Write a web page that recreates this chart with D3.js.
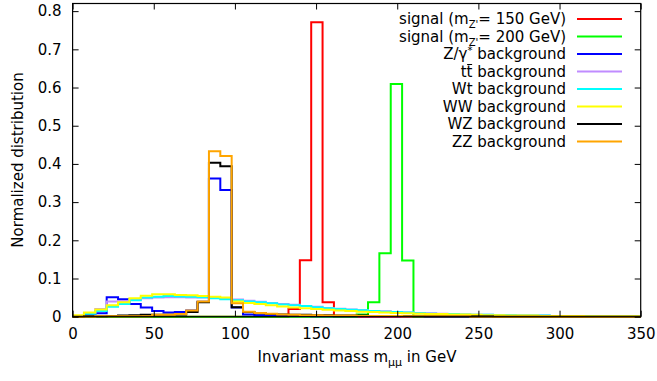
<!DOCTYPE html>
<html>
<head>
<meta charset="utf-8">
<script src="https://cdn.jsdelivr.net/npm/d3@7"></script>
<style>
  body { margin: 0; background: #fff; }
  svg { display: block; font-family: "DejaVu Sans", sans-serif; }
</style>
</head>
<body>
<div id="app"></div>
<script>
const app = document.getElementById("app");

// bins of 7 GeV, 0..350
const binWidth = 7;
const xTicks = [0, 50, 100, 150, 200, 250, 300, 350];
const yTicks = [0, 0.1, 0.2, 0.3, 0.4, 0.5, 0.6, 0.7, 0.8];

const sig150 = [0,0,0,0,0,0,0,0,0,0, 0,0,0,0,0,0,0,0,0,0.02, 0.148,0.771,0.038,0,0,0,0,0,0,0, 0,0,0,0,0,0,0,0,0,0, 0,0,0,0,0,0,0,0,0,0];
const sig200 = [0,0,0,0,0,0,0,0,0,0, 0,0,0,0,0,0,0,0,0,0, 0,0,0,0,0,0.006,0.038,0.166,0.609,0.147, 0,0,0,0,0,0,0,0,0,0, 0,0,0,0,0,0,0,0,0,0];
const zgamma = [0.001,0.006,0.009,0.051,0.046,0.033,0.024,0.015,0.011,0.012, 0.016,0.039,0.362,0.332,0.024,0.006,0.004,0.003,0.002,0.002, 0.002,0.001,0.001,0.001,0.001,0.001,0.001,0.001,0.001,0.001, 0.001,0,0,0,0,0,0,0,0,0, 0,0,0,0,0,0,0,0,0,0];
const ttbar = [0.002,0.01,0.02,0.04,0.041,0.044,0.048,0.05,0.051,0.051, 0.05,0.05,0.049,0.047,0.045,0.042,0.039,0.036,0.033,0.031, 0.028,0.026,0.023,0.021,0.019,0.017,0.015,0.014,0.012,0.011, 0.01,0.009,0.008,0.007,0.006,0.005,0.005,0.004,0.004,0.003, 0.003,0.003,0.002,0.002,0.002,0.002,0.001,0.001,0.001,0.001];
const wt = [0.002,0.008,0.015,0.026,0.033,0.043,0.05,0.052,0.054,0.053, 0.052,0.051,0.048,0.046,0.043,0.04,0.038,0.035,0.032,0.03, 0.028,0.025,0.022,0.02,0.018,0.017,0.015,0.013,0.012,0.011, 0.009,0.008,0.007,0.007,0.006,0.005,0.005,0.004,0.004,0.003, 0.003,0.003,0.002,0.002,0.002,0.002,0.001,0.001,0.001,0.001];
const ww = [0.004,0.011,0.019,0.03,0.038,0.048,0.055,0.059,0.059,0.057, 0.056,0.054,0.052,0.05,0.04,0.036,0.033,0.03,0.027,0.024, 0.022,0.02,0.018,0.016,0.015,0.013,0.012,0.011,0.01,0.009, 0.008,0.007,0.007,0.006,0.006,0.005,0.004,0.004,0.003,0.003, 0.003,0.002,0.002,0.002,0.002,0.001,0.001,0.001,0.001,0.001];
const wz = [0,0.001,0.001,0.002,0.003,0.004,0.005,0.005,0.005,0.006, 0.012,0.038,0.403,0.394,0.025,0.012,0.009,0.007,0.006,0.005, 0.005,0.004,0.004,0.003,0.003,0.003,0.002,0.002,0.002,0.002, 0.001,0.001,0.001,0.001,0.001,0.001,0.001,0,0,0, 0,0,0,0,0,0,0,0,0,0];
const zz = [0,0,0.001,0.001,0.001,0.001,0.001,0.005,0.005,0.007, 0.016,0.04,0.433,0.421,0.035,0.013,0.01,0.008,0.006,0.005, 0.004,0.004,0.003,0.003,0.003,0.002,0.002,0.002,0.002,0.001, 0.001,0.001,0.001,0.001,0.001,0,0,0,0,0, 0,0,0,0,0,0,0,0,0,0];

const seriesValues = [sig150, sig200, zgamma, ttbar, wt, ww, wz, zz];
const seriesColors = ["#ff0000", "#00ff00", "#0000ff", "#c08cff", "#00ffff", "#ffff00", "#000000", "#ffa500"];

const W = 657, H = 381;
const FS = 15;
const svg = d3.select(app).append("svg").attr("width", W).attr("height", H);

const x = d3.scaleLinear().domain([0, 350]).range([72.6, 640.7]);
const y = d3.scaleLinear().domain([0, 0.82]).range([316.7, 3.5]);

// histograms, drawn in legend order (last on top)
const line = d3.line().x(d => x(d[0])).y(d => y(d[1])).curve(d3.curveStepAfter);
seriesValues.forEach((vals, i) => {
  const pts = vals.map((v, k) => [k * binWidth, v]);
  pts.push([vals.length * binWidth, vals[vals.length - 1]]);
  svg.append("path")
    .datum(pts)
    .attr("d", line)
    .attr("fill", "none")
    .attr("stroke", seriesColors[i])
    .attr("stroke-width", 2);
});

// axes with inward ticks, mirrored
const fmtY = d => d === 0 ? "0" : d3.format(".1f")(d);
const axBottom = svg.append("g").attr("transform", `translate(0,${y(0)})`)
  .call(d3.axisBottom(x).tickValues(xTicks).tickSize(-6).tickPadding(12));
const axTop = svg.append("g").attr("transform", `translate(0,${y.range()[1]})`)
  .call(d3.axisTop(x).tickValues(xTicks).tickSize(-6).tickFormat(""));
const axLeft = svg.append("g").attr("transform", `translate(${x(0)},0)`)
  .call(d3.axisLeft(y).tickValues(yTicks).tickSize(-6).tickPadding(11).tickFormat(fmtY));
const axRight = svg.append("g").attr("transform", `translate(${x(350)},0)`)
  .call(d3.axisRight(y).tickValues(yTicks).tickSize(-6).tickFormat(""));

[axBottom, axTop, axLeft, axRight].forEach(g => {
  g.select(".domain").remove();
  g.selectAll("text").attr("font-family", "DejaVu Sans").attr("font-size", FS).attr("fill", "#000");
  g.selectAll(".tick line").attr("stroke", "#000");
});

svg.append("rect")
  .attr("x", x(0)).attr("y", y.range()[1])
  .attr("width", x(350) - x(0)).attr("height", y(0) - y.range()[1])
  .attr("fill", "none").attr("stroke", "#000").attr("stroke-width", 1.2);

// axis titles
const xl = svg.append("text")
  .attr("x", 357).attr("y", 362)
  .attr("text-anchor", "middle").attr("font-size", FS);
xl.append("tspan").text("Invariant mass m");
xl.append("tspan").attr("font-size", 11).attr("dy", 4).text("μμ");
xl.append("tspan").attr("dy", -4).text(" in GeV");

svg.append("text")
  .attr("transform", "translate(23,160) rotate(-90)")
  .attr("text-anchor", "middle").attr("font-size", FS)
  .text("Normalized distribution");

// legend: [text, dy, small?, overline?]
const legendRows = [
  [["signal (m", 0], ["Z'", 4, 1], ["= 150 GeV)", -4]],
  [["signal (m", 0], ["Z'", 4, 1], ["= 200 GeV)", -4]],
  [["Z/γ", 0], ["*", -5, 1], [" background", 5]],
  [["t", 0], ["t", 0, 0, 1], [" background", 0]],
  [["Wt background", 0]],
  [["WW background", 0]],
  [["WZ background", 0]],
  [["ZZ background", 0]]
];
const legend = svg.append("g");
legendRows.forEach((parts, i) => {
  const yy = 19 + i * 17.5;
  const t = legend.append("text")
    .attr("x", 566).attr("y", yy + 5)
    .attr("text-anchor", "end").attr("font-size", FS);
  const bars = [];
  parts.forEach(p => {
    const ts = t.append("tspan").attr("dy", p[1]).attr("font-size", p[2] ? 10 : FS).text(p[0]);
    if (p[3]) bars.push(ts);
  });
  bars.forEach(ts => {
    const b = ts.node().getBBox();
    legend.append("line")
      .attr("x1", b.x + 0.5).attr("x2", b.x + b.width - 0.5)
      .attr("y1", b.y + 2).attr("y2", b.y + 2)
      .attr("stroke", "#000").attr("stroke-width", 1);
  });
  legend.append("line")
    .attr("x1", 577).attr("x2", 622).attr("y1", yy).attr("y2", yy)
    .attr("stroke", seriesColors[i]).attr("stroke-width", 2);
});
</script>
</body>
</html>
